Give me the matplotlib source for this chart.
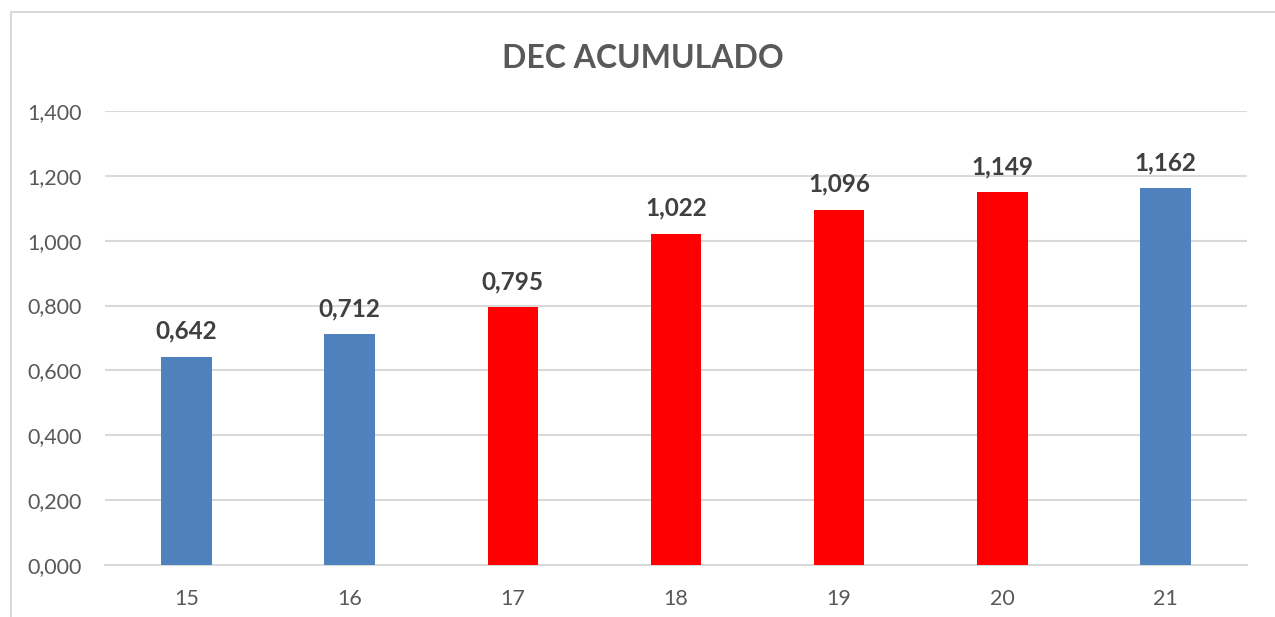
import matplotlib.pyplot as plt
from matplotlib.patches import Rectangle
from matplotlib.ticker import FuncFormatter

plt.rcParams['font.family'] = ['Lato', 'DejaVu Sans']

# datos
categorias = ['15', '16', '17', '18', '19', '20', '21']
valores = [0.642, 0.712, 0.795, 1.022, 1.096, 1.149, 1.162]
colores = ['#4F81BD', '#4F81BD', '#FF0000', '#FF0000', '#FF0000', '#FF0000', '#4F81BD']
titulo = 'DEC ACUMULADO'

fig = plt.figure(figsize=(12.75, 6.17), dpi=100)
ax = fig.add_axes([105 / 1275, 52 / 617, 1142 / 1275, 454 / 617])

# marco del grafico
fig.patches.append(Rectangle((11 / 1275, -0.1), 1.2, (617 - 12) / 617 + 0.1,
                             transform=fig.transFigure, fill=False,
                             edgecolor='#D9D9D9', linewidth=1.5))

x = range(len(categorias))
barras = ax.bar(x, valores, width=0.31, color=colores, zorder=3)

for xi, v in zip(x, valores):
    ax.annotate(f'{v:.3f}'.replace('.', ','), (xi, v), xytext=(0, 10),
                textcoords='offset points', ha='center', va='bottom',
                fontsize=17.5, fontweight='bold', color='#404040')

ax.set_xlim(-0.5, len(categorias) - 0.5)
ax.set_ylim(0, 1.4)
ax.set_yticks([0, 0.2, 0.4, 0.6, 0.8, 1.0, 1.2, 1.4])
ax.yaxis.set_major_formatter(FuncFormatter(lambda v, p: f'{v:.3f}'.replace('.', ',')))
ax.set_xticks(list(x))
ax.set_xticklabels(categorias)

ax.grid(axis='y', color='#D9D9D9', linewidth=1.5, zorder=0)
for s in ['top', 'right', 'left']:
    ax.spines[s].set_visible(False)
ax.spines['bottom'].set_color('#D9D9D9')
ax.spines['bottom'].set_linewidth(1.5)
ax.tick_params(axis='both', length=0, labelsize=15.5, labelcolor='#595959')
ax.tick_params(axis='y', pad=17)
ax.tick_params(axis='x', pad=17)

fig.text(643 / 1275, 1 - 58 / 617, titulo, ha='center', va='center',
         fontsize=23, fontweight='bold', color='#595959')

fig.savefig('out.png', dpi=100)
